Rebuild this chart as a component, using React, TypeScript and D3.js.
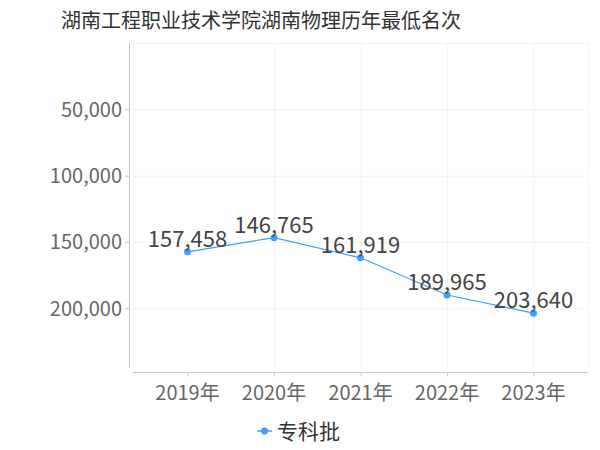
import * as d3 from "d3";
import { useEffect, useRef } from "react";

const title = "湖南工程职业技术学院湖南物理历年最低名次";
const years = ["2019年", "2020年", "2021年", "2022年", "2023年"];
const ranks = [157458, 146765, 161919, 189965, 203640];
const yTicks = [50000, 100000, 150000, 200000];
const seriesName = "专科批";

const FONT = "'Noto Sans CJK SC', 'Noto Sans', sans-serif";
const BLUE = "#3fa1ff";

export default function App() {
  const svgRef = useRef<SVGSVGElement>(null);
  const width = 600;
  const height = 450;
  const plot = { left: 133, right: 588, top: 43, bottom: 368 };

  useEffect(() => {
    const svg = d3.select(svgRef.current);
    svg.selectAll("*").remove();

    const x = d3.scalePoint<string>().domain(years).range([plot.left, plot.right]).padding(0.63);
    const y = d3.scaleLinear().domain([0, 245000]).range([plot.top, plot.bottom]);

    svg
      .append("text")
      .attr("x", 261)
      .attr("y", 28)
      .attr("text-anchor", "middle")
      .attr("font-size", 20)
      .attr("fill", "#333")
      .text(title);

    // grid
    const grid = svg.append("g").attr("stroke", "#f2f2f2").attr("stroke-width", 1);
    [0, ...yTicks].forEach((v) => {
      grid.append("line").attr("x1", plot.left).attr("x2", plot.right).attr("y1", y(v) + 0.5).attr("y2", y(v) + 0.5);
    });
    const vx = [plot.left, ...years.slice(1).map((d) => x(d)!), plot.right];
    vx.forEach((px) => {
      grid.append("line").attr("x1", px + 0.5).attr("x2", px + 0.5).attr("y1", plot.top).attr("y2", plot.bottom);
    });

    // y axis
    const gy = svg.append("g");
    gy.append("line")
      .attr("x1", 129.5).attr("x2", 129.5)
      .attr("y1", plot.top).attr("y2", plot.bottom)
      .attr("stroke", "#c8c8c8");
    yTicks.forEach((v) => {
      gy.append("line")
        .attr("x1", 125).attr("x2", 129.5)
        .attr("y1", y(v) + 0.5).attr("y2", y(v) + 0.5)
        .attr("stroke", "#c8c8c8");
      gy.append("text")
        .attr("x", 122)
        .attr("y", y(v))
        .attr("dy", "0.36em")
        .attr("text-anchor", "end")
        .attr("font-size", 20)
        .attr("fill", "#666")
        .text(d3.format(",")(v));
    });

    // x axis
    const axisY = 372.5;
    const gx = svg.append("g");
    gx.append("line")
      .attr("x1", plot.left).attr("x2", plot.right)
      .attr("y1", axisY).attr("y2", axisY)
      .attr("stroke", "#c8c8c8");
    years.forEach((d) => {
      gx.append("line")
        .attr("x1", x(d)! + 0.5).attr("x2", x(d)! + 0.5)
        .attr("y1", axisY).attr("y2", axisY + 4)
        .attr("stroke", "#c8c8c8");
      gx.append("text")
        .attr("x", x(d)!)
        .attr("y", 400)
        .attr("text-anchor", "middle")
        .attr("font-size", 20)
        .attr("fill", "#666")
        .text(d);
    });

    // line
    const pts = years.map((d, i) => [x(d)!, y(ranks[i])] as [number, number]);
    svg.append("path")
      .attr("d", d3.line()(pts))
      .attr("fill", "none")
      .attr("stroke", BLUE)
      .attr("stroke-width", 1.2);
    svg.selectAll("circle.pt")
      .data(pts)
      .enter()
      .append("circle")
      .attr("class", "pt")
      .attr("cx", (d) => d[0])
      .attr("cy", (d) => d[1])
      .attr("r", 3.5)
      .attr("fill", BLUE);
    svg.selectAll("text.lbl")
      .data(ranks)
      .enter()
      .append("text")
      .attr("class", "lbl")
      .attr("x", (_, i) => pts[i][0])
      .attr("y", (_, i) => pts[i][1] - 5)
      .attr("text-anchor", "middle")
      .attr("font-size", 22)
      .attr("fill", "#444")
      .text((d) => d3.format(",")(d));

    // legend
    const lg = svg.append("g");
    lg.append("line").attr("x1", 257).attr("x2", 272).attr("y1", 431).attr("y2", 431).attr("stroke", BLUE).attr("stroke-width", 1.5);
    lg.append("circle").attr("cx", 264.5).attr("cy", 431).attr("r", 3.5).attr("fill", BLUE);
    lg.append("text")
      .attr("x", 277)
      .attr("y", 431)
      .attr("dy", "0.36em")
      .attr("font-size", 21)
      .attr("fill", "#333")
      .text(seriesName);
  }, []);

  return (
    <svg
      ref={svgRef}
      width={width}
      height={height}
      style={{ position: "absolute", left: 0, top: 0, background: "#fff", fontFamily: FONT }}
    />
  );
}
